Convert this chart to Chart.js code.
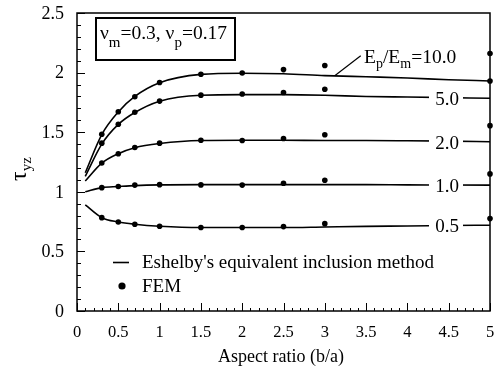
<!DOCTYPE html>
<html>
<head>
<meta charset="utf-8">
<script src="https://cdn.jsdelivr.net/npm/chart.js@4"></script>
<style>
  html, body { margin: 0; padding: 0; background: #fff; }
  #wrap { width: 497px; height: 371px; }
</style>
</head>
<body>
<div id="wrap"><canvas id="myChart" width="497" height="371"></canvas></div>
<script>
// Eshelby curves
var xLine = [0.1, 0.3, 0.5, 0.7, 1, 1.5, 2, 2.5, 3, 3.5, 4, 4.5, 5];
var line10 = [1.16, 1.48, 1.67, 1.80, 1.915, 1.985, 1.995, 1.99, 1.975, 1.965, 1.955, 1.94, 1.93];
var line5 = [1.13, 1.40, 1.565, 1.665, 1.76, 1.81, 1.815, 1.815, 1.81, 1.80, 1.795, 1.79, 1.785];
var line2 = [1.09, 1.24, 1.32, 1.37, 1.405, 1.43, 1.432, 1.432, 1.43, 1.43, 1.428, 1.425, 1.42];
var line1 = [1.0, 1.035, 1.044, 1.052, 1.058, 1.06, 1.06, 1.06, 1.06, 1.06, 1.058, 1.057, 1.056];
var line05 = [0.89, 0.783, 0.747, 0.728, 0.711, 0.70, 0.70, 0.70, 0.705, 0.71, 0.713, 0.717, 0.72];

// FEM points
var xFem = [0.3, 0.5, 0.7, 1, 1.5, 2, 2.5, 3, 5];
var fem10 = [1.483, 1.672, 1.797, 1.917, 1.986, 1.997, 2.025, 2.06, 2.16];
var fem5 = [1.408, 1.567, 1.667, 1.761, 1.811, 1.82, 1.833, 1.86, 1.93];
var fem2 = [1.242, 1.319, 1.372, 1.408, 1.432, 1.43, 1.447, 1.478, 1.555];
var fem1 = [1.035, 1.044, 1.056, 1.06, 1.058, 1.056, 1.072, 1.097, 1.15];
var fem05 = [0.783, 0.747, 0.728, 0.711, 0.70, 0.70, 0.708, 0.733, 0.775];

var curveLabels = ['10.0', '5.0', '2.0', '1.0', '0.5'];
var xTickValues = [0, 0.5, 1, 1.5, 2, 2.5, 3, 3.5, 4, 4.5, 5];
var xTickLabels = ['0', '0.5', '1', '1.5', '2', '2.5', '3', '3.5', '4', '4.5', '5'];
var yTickValues = [0, 0.5, 1, 1.5, 2, 2.5];
var yTickLabels = ['0', '0.5', '1', '1.5', '2', '2.5'];

var FONT = '"Liberation Serif", "Times New Roman", serif';

function pts(xs, ys) {
    return xs.map(function (x, i) { return {x: x, y: ys[i]}; });
}

function lineSet(ys) {
    return {
        type: 'line',
        data: pts(xLine, ys),
        borderColor: '#000',
        borderWidth: 1.6,
        pointRadius: 0,
        fill: false,
        cubicInterpolationMode: 'monotone',
        clip: false
    };
}

function femSet(ys) {
    return {
        type: 'scatter',
        data: pts(xFem, ys),
        pointRadius: 2.8,
        pointBackgroundColor: '#000',
        pointBorderColor: '#000',
        pointBorderWidth: 0,
        showLine: false,
        clip: false
    };
}

// draw text made of parts, each [text, isSubscript]
function drawParts(ctx, x, y, parts, size, subSize, subDrop) {
    parts.forEach(function (p) {
        ctx.font = (p[1] ? subSize : size) + 'px ' + FONT;
        ctx.fillText(p[0], x, y + (p[1] ? subDrop : 0));
        x += ctx.measureText(p[0]).width;
    });
    return x;
}

var decor = {
    id: 'decor',
    afterDatasetsDraw: function (chart) {
        var ctx = chart.ctx;
        var a = chart.chartArea;
        var xs = chart.scales.x, ys = chart.scales.y;
        ctx.save();
        ctx.strokeStyle = '#000';
        ctx.fillStyle = '#000';

        // frame
        ctx.lineWidth = 1.5;
        ctx.strokeRect(a.left, a.top, a.right - a.left, a.bottom - a.top);

        // y ticks (inside)
        ctx.lineWidth = 1;
        for (var i = 0; i <= 25; i++) {
            var py = Math.round(ys.getPixelForValue(i / 10)) + 0.5;
            var len = (i % 5 === 0) ? 8 : 4;
            ctx.beginPath();
            ctx.moveTo(a.left, py);
            ctx.lineTo(a.left + len, py);
            ctx.stroke();
        }
        // x ticks (inside)
        for (var j = 0; j <= 50; j++) {
            var px = Math.round(xs.getPixelForValue(j / 10)) + 0.5;
            var l2 = (j % 5 === 0) ? 8 : 3;
            ctx.beginPath();
            ctx.moveTo(px, a.bottom);
            ctx.lineTo(px, a.bottom - l2);
            ctx.stroke();
        }

        // tick labels
        ctx.font = '18px ' + FONT;
        ctx.textAlign = 'right';
        ctx.textBaseline = 'middle';
        yTickValues.forEach(function (v, k) {
            ctx.fillText(yTickLabels[k], 64, ys.getPixelForValue(v) + 1);
        });
        ctx.font = '16.5px ' + FONT;
        ctx.textAlign = 'center';
        xTickValues.forEach(function (v, k) {
            ctx.fillText(xTickLabels[k], xs.getPixelForValue(v), 333);
        });
        ctx.font = '18px ' + FONT;
        ctx.fillText('Aspect ratio (b/a)', 281, 357);

        // y title: tau_yz rotated
        ctx.save();
        ctx.translate(21, 166);
        ctx.rotate(-Math.PI / 2);
        ctx.textAlign = 'left';
        ctx.textBaseline = 'alphabetic';
        drawParts(ctx, -15, 5, [['\u03c4', false], ['yz', true]], 24, 15, 5);
        ctx.restore();

        // curve labels on the right, breaking the lines
        var ends = [line10, line5, line2, line1, line05];
        ctx.textAlign = 'center';
        ctx.textBaseline = 'middle';
        ctx.font = '19px ' + FONT;
        for (var c = 1; c < ends.length; c++) {
            var ly = ys.getPixelForValue(ends[c][ends[c].length - 1]);
            ctx.fillStyle = '#fff';
            ctx.fillRect(429, ly - 6, 34, 12);
            ctx.fillStyle = '#000';
            ctx.fillText(curveLabels[c], 447, ly + 2);
        }

        // E_p/E_m = 10.0 label with leader line
        var sx = xs.getPixelForValue(3.12), sy = ys.getPixelForValue(1.973);
        ctx.lineWidth = 1.2;
        ctx.beginPath();
        ctx.moveTo(sx, sy);
        ctx.lineTo(sx + 26, sy - 20);
        ctx.stroke();
        ctx.textAlign = 'left';
        ctx.textBaseline = 'alphabetic';
        drawParts(ctx, 364, 63, [['E', false], ['p', true], ['/E', false], ['m', true], ['=' + curveLabels[0], false]], 19.5, 14, 5);

        // nu box
        ctx.lineWidth = 2;
        ctx.strokeRect(96, 18, 139, 42);
        drawParts(ctx, 100, 39, [['\u03bd', false], ['m', true], ['=0.3, ', false], ['\u03bd', false], ['p', true], ['=0.17', false]], 19.5, 15, 8);

        // legend
        ctx.lineWidth = 1.6;
        ctx.beginPath();
        ctx.moveTo(113, 262.5);
        ctx.lineTo(129, 262.5);
        ctx.stroke();
        ctx.beginPath();
        ctx.arc(122, 286, 3.6, 0, Math.PI * 2);
        ctx.fill();
        ctx.font = '19px ' + FONT;
        ctx.textBaseline = 'middle';
        ctx.fillText("Eshelby's equivalent inclusion method", 142, 263);
        ctx.fillText('FEM', 142, 287);

        ctx.restore();
    }
};

var myChart = new Chart(document.getElementById('myChart').getContext('2d'), {
    type: 'line',
    data: {
        datasets: [
            lineSet(line10), lineSet(line5), lineSet(line2), lineSet(line1), lineSet(line05),
            femSet(fem10), femSet(fem5), femSet(fem2), femSet(fem1), femSet(fem05)
        ]
    },
    options: {
        responsive: false,
        animation: false,
        layout: { padding: { left: 77, right: 7, top: 13, bottom: 60 } },
        scales: {
            x: { type: 'linear', min: 0, max: 5, display: false },
            y: { type: 'linear', min: 0, max: 2.5, display: false }
        },
        plugins: {
            legend: { display: false },
            tooltip: { enabled: false }
        }
    },
    plugins: [decor]
});
</script>
</body>
</html>
